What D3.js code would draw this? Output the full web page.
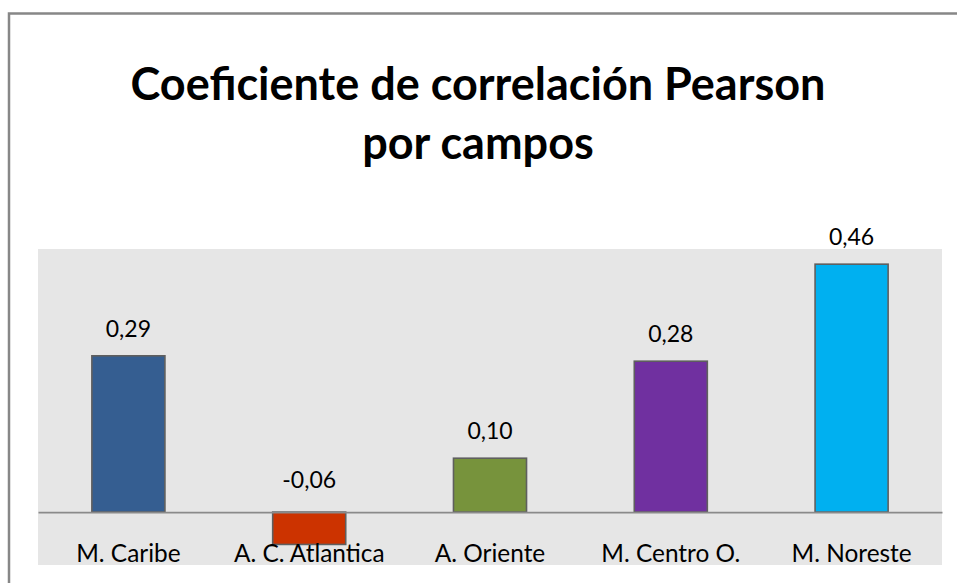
<!DOCTYPE html>
<html>
<head>
<meta charset="utf-8">
<script src="https://cdn.jsdelivr.net/npm/d3@7"></script>
<style>
html, body { margin: 0; padding: 0; background: #ffffff; }
svg { display: block; }
</style>
</head>
<body>
<svg id="chart" width="957" height="583"></svg>
<script>
const categories = ["M. Caribe", "A. C. Atlantica", "A. Oriente", "M. Centro O.", "M. Noreste"];
const values = [0.29, -0.06, 0.10, 0.28, 0.46];
const colors = ["#355E91", "#CC3300", "#77933C", "#7030A0", "#00B0F0"];
const titleLines = ["Coeficiente de correlación Pearson", "por campos"];

const svg = d3.select("#chart");
const plot = { left: 38, right: 942, top: 249, bottom: 565 };
const fontFamily = "Lato, 'Open Sans', sans-serif";

// outer chart border (only top/left visible in the frame)
svg.append("rect")
  .attr("x", 9).attr("y", 13.5)
  .attr("width", 960).attr("height", 600)
  .attr("fill", "#ffffff")
  .attr("stroke", "#878787")
  .attr("stroke-width", 2.5);

// title
svg.append("g").selectAll("text")
  .data(titleLines)
  .join("text")
  .attr("x", 478)
  .attr("y", (d, i) => 100 + i * 59)
  .attr("text-anchor", "middle")
  .attr("font-family", fontFamily)
  .attr("font-weight", "bold")
  .attr("font-size", 45)
  .attr("fill", "#000")
  .text(d => d);

// plot area
svg.append("rect")
  .attr("x", plot.left).attr("y", plot.top)
  .attr("width", plot.right - plot.left)
  .attr("height", plot.bottom - plot.top)
  .attr("fill", "#E6E6E6");

const x = d3.scaleBand()
  .domain(categories)
  .range([plot.left, plot.right])
  .paddingInner(0.596)
  .paddingOuter(0.298);

const y = d3.scaleLinear()
  .domain([-0.1, 0.49])
  .range([566, 248]);

const data = categories.map((c, i) => ({ c, v: values[i], color: colors[i] }));

// bars
svg.append("g").selectAll("rect")
  .data(data)
  .join("rect")
  .attr("x", d => x(d.c))
  .attr("y", d => y(Math.max(0, d.v)))
  .attr("width", x.bandwidth())
  .attr("height", d => Math.abs(y(d.v) - y(0)))
  .attr("fill", d => d.color)
  .attr("stroke", "#5F5F5F")
  .attr("stroke-width", 1.6);

// zero axis line
const xAxis = d3.axisBottom(x).tickSize(0).tickFormat("");
const axisG = svg.append("g")
  .attr("transform", `translate(0,${y(0)})`)
  .call(xAxis);
axisG.select(".domain")
  .attr("stroke", "#8A8A8A")
  .attr("stroke-width", 1.6);

// category labels
svg.append("g").selectAll("text")
  .data(categories)
  .join("text")
  .attr("x", d => x(d) + x.bandwidth() / 2)
  .attr("y", 562)
  .attr("text-anchor", "middle")
  .attr("font-family", fontFamily)
  .attr("font-size", 24.4)
  .attr("fill", "#000")
  .text(d => d);

// data labels
const fmt = v => d3.format(".2f")(v).replace(".", ",").replace("−", "-");
svg.append("g").selectAll("text")
  .data(data)
  .join("text")
  .attr("x", d => x(d.c) + x.bandwidth() / 2)
  .attr("y", d => d.v >= 0 ? y(d.v) - 19 : y(0) - 24)
  .attr("text-anchor", "middle")
  .attr("font-family", fontFamily)
  .attr("font-size", 23)
  .attr("fill", "#000")
  .text(d => fmt(d.v));
</script>
</body>
</html>
